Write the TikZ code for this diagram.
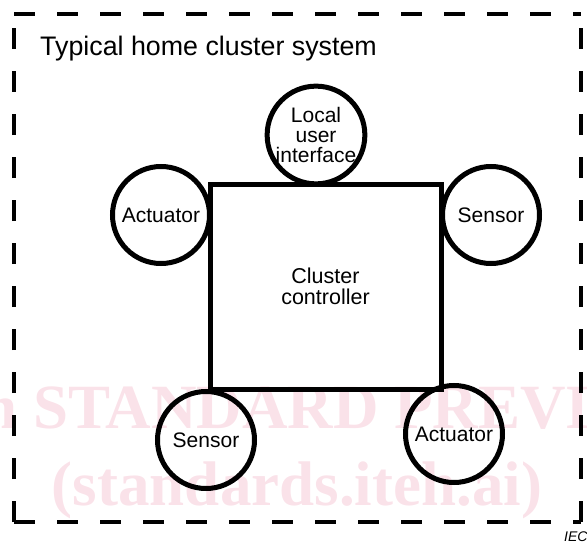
\documentclass[tikz,border=0pt]{standalone}
\usepackage{fontspec}
\setmainfont{Liberation Sans}
\newfontfamily\wmfont{Liberation Serif}
\definecolor{wmpink}{RGB}{250,226,233}
\tikzset{
  unit/.style={circle, draw, line width=5pt, minimum size=97pt, inner sep=0pt,
    align=center, font=\fontsize{21}{20}\selectfont},
  ctrlbox/.style={draw, line width=5pt, minimum width=231pt, minimum height=205pt,
    align=center, font=\fontsize{21.5}{21}\selectfont},
  frame/.style={line width=4.5pt, dash pattern=on 21pt off 22pt},
  wmark/.style={font=\wmfont\bfseries\fontsize{63}{63}\selectfont, text=wmpink, inner sep=0pt}
}
\begin{document}
\begin{tikzpicture}[x=1pt, y=-1pt]
\useasboundingbox (0,0) rectangle (587,543);
\begin{scope}
  \clip (0,0) rectangle (587,543);
  % watermark behind the drawing
  \node[wmark, anchor=base west] (wm1) at (33,428) {\llap{iTeh }STANDARD PREVIEW};
  \node[wmark, anchor=base] (wm2) at (297,505) {(standards.iteh.ai)};
  % figure tag
  \node[font=\itshape\fontsize{14}{14}\selectfont, anchor=base west, inner sep=0pt] (tag) at (564,541) {IEC};
\end{scope}

% dashed system boundary
\coordinate (tl) at (14,14);
\coordinate (tr) at (581,14);
\coordinate (bl) at (14,522);
\coordinate (br) at (581,522);
\draw[frame] (tl) -- (tr);
\draw[frame] (bl) -- (br);
\draw[frame] (bl) -- (tl);
\draw[frame] (br) -- (tr);

\node[anchor=base west, inner sep=0pt, font=\fontsize{26.8}{27}\selectfont] (title) at (40,56) {Typical home cluster system};

% controller and attached devices
\node[ctrlbox] (ctrl) at (325.5,286.5) {Cluster\\controller};
\node[unit] (lui) at (316,135) {Local\\user\\interface};
\node[unit] (act1) at (161,215) {Actuator};
\node[unit] (sen1) at (491,215) {Sensor};
\node[unit] (sen2) at (206,440) {Sensor};
\node[unit] (act2) at (454,434) {Actuator};
\end{tikzpicture}
\end{document}
